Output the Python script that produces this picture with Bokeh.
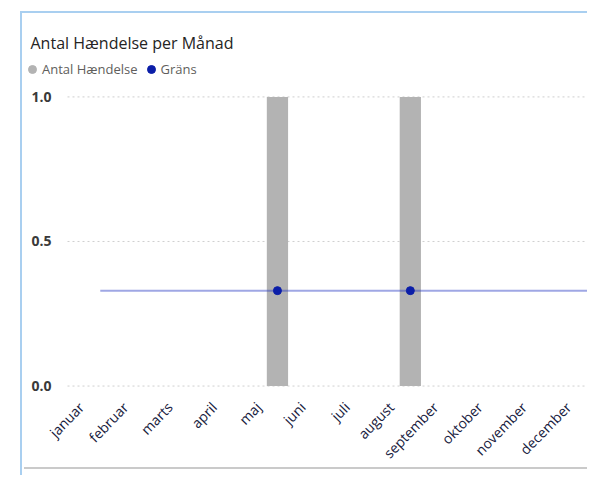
import numpy as np
from bokeh.plotting import figure
from bokeh.models import (ColumnDataSource, Range1d, FixedTicker, CustomJSTickFormatter,
                          Legend, LegendItem, NumeralTickFormatter, Label)
from bokeh.embed import file_html
from bokeh.resources import INLINE

months = ["januar", "februar", "marts", "april", "maj", "juni", "juli",
          "august", "september", "oktober", "november", "december"]
antal = [0, 0, 0, 0, 1, 0, 0, 1, 0, 0, 0, 0]
grans = [0.33, 0.33, 0.33, 0.33, 0.33, 0.33, 0.33, 0.33, 0.33, 0.33, 0.33, 0.33]
y_ticks = [0.0, 0.5, 1.0]
title_text = "Antal Hændelse per Månad"
legend_labels = ["Antal Hændelse", "Gräns"]

idx = list(range(len(months)))
src = ColumnDataSource(dict(x=idx, month=months, antal=antal, grans=grans))
pts = ColumnDataSource(dict(x=[i for i in idx if antal[i] > 0],
                            g=[grans[i] for i in idx if antal[i] > 0]))

FONT = "Open Sans"
LABEL_SHIFT = 0.43
X_START, X_END = -1.756, 11.0
GRID_X0 = -0.74

p = figure(width=587, height=475, output_backend="svg", toolbar_location=None,
           x_range=Range1d(X_START, X_END), y_range=Range1d(-0.005, 1.285),
           min_border_left=22, min_border_right=0, min_border_top=14, min_border_bottom=88)
p.outline_line_color = None
p.background_fill_color = "white"
p.border_fill_alpha = 0
p.styles = {
    "background-image": "linear-gradient(#a9cff0,#a9cff0), linear-gradient(#a9cff0,#a9cff0), "
                        "linear-gradient(#cacaca,#cacaca)",
    "background-size": "2px 100%, 100% 2px, 100% 2px",
    "background-position": "20px 11px, 20px 11px, 24px 467px",
    "background-repeat": "no-repeat",
}

# dotted value grid lines, starting where the plotting area begins
p.xgrid.grid_line_color = None
p.ygrid.grid_line_color = None
p.segment(x0=[GRID_X0] * len(y_ticks), x1=[X_END] * len(y_ticks), y0=y_ticks, y1=y_ticks,
          line_color="#cfcfcf", line_width=1, line_dash="2 3")

p.vbar(x="x", top="antal", width=0.48, source=src, fill_color="#b3b3b3", line_color=None)
p.line(x="x", y="grans", source=src, color="#2a3cc4", alpha=0.45, line_width=2)
dots = p.scatter(x="x", y="g", source=pts, size=8, color="#0b1ea8")
# legend swatch only (no visible point)
swatch = p.scatter(x=np.array([np.nan]), y=np.array([np.nan]), size=8, color="#b3b3b3")

# x axis
xa = p.xaxis[0]
xa.ticker = FixedTicker(ticks=[i - LABEL_SHIFT for i in idx])
xa.formatter = CustomJSTickFormatter(args=dict(names=months, shift=LABEL_SHIFT),
                                     code="return names[Math.round(tick + shift)]")
xa.major_label_orientation = 0.8
xa.major_label_standoff = 11
xa.axis_line_color = None
xa.major_tick_line_color = None
xa.minor_tick_line_color = None
xa.major_label_text_font = FONT
xa.major_label_text_font_size = "14px"
xa.major_label_text_color = "#17203d"

# y axis (labels drawn to the right of the axis position)
ya = p.yaxis[0]
ya.ticker = FixedTicker(ticks=y_ticks)
ya.formatter = NumeralTickFormatter(format="0.0")
ya.axis_line_color = None
ya.major_tick_line_color = None
ya.minor_tick_line_color = None
ya.major_label_standoff = -35
ya.major_label_text_font = FONT
ya.major_label_text_font_size = "14px"
ya.major_label_text_font_style = "bold"
ya.major_label_text_color = "#3a3a3a"

# legend
legend = Legend(items=[LegendItem(label=legend_labels[0], renderers=[swatch]),
                       LegendItem(label=legend_labels[1], renderers=[dots])],
                orientation="horizontal", location=(0, 308),
                glyph_width=20, glyph_height=20, label_standoff=0, spacing=3,
                padding=0, margin=0, border_line_color=None, background_fill_alpha=0,
                label_text_font=FONT, label_text_font_size="13px", label_text_color="#605e5c")
p.add_layout(legend)

# title
p.add_layout(Label(x=30, y=42, x_units="canvas", y_units="canvas", text=title_text,
                   text_font=FONT, text_font_size="16px", text_color="#252423",
                   text_baseline="middle"))

open("out.html", "w").write(file_html(p, INLINE))
